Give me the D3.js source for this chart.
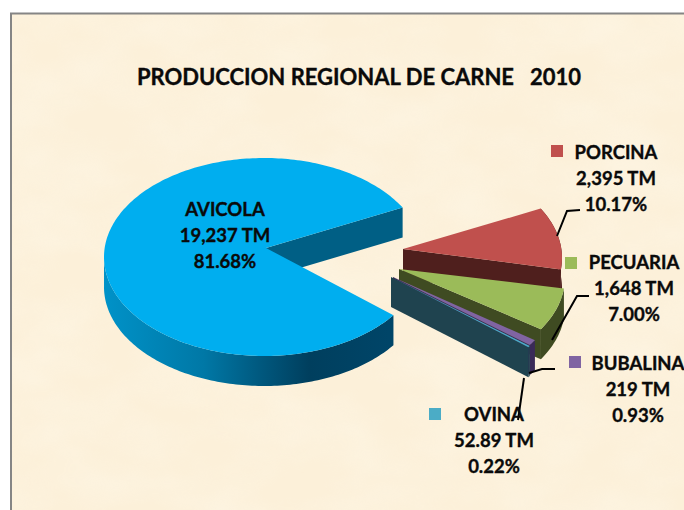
<!DOCTYPE html>
<html><head><meta charset="utf-8">
<script src="https://cdnjs.cloudflare.com/ajax/libs/d3/7.8.5/d3.min.js"></script>
<style>html,body{margin:0;padding:0;background:#fff;overflow:hidden}svg{display:block}
text{font-family:Lato,Carlito,"Open Sans",sans-serif;font-weight:700;fill:#0a0a0a;stroke:#0a0a0a;stroke-width:.35;text-anchor:middle}</style>
</head><body><svg id="c" width="684" height="510"></svg>
<script>
// ---- data ----
const categories = ["AVICOLA","PORCINA","PECUARIA","BUBALINA","OVINA"];
const tonnes     = [19237, 2395, 1648, 219, 52.89];
const tonneLabels= ["19,237 TM","2,395 TM","1,648 TM","219 TM","52.89 TM"];
const percentLabels=["81.68%","10.17%","7.00%","0.93%","0.22%"];
const title = "PRODUCCION REGIONAL DE CARNE\u00A0\u00A0\u00A02010";

// ---- styles / layout ----
const topColors  = ["#00AEEF","#C0504D","#9BBB59","#8064A2","#4BACC6"];
const faceColors = ["#005F85","#4F1F1D","#3F4B22","#3A2A58","#1F434F"];
const wallColors = ["url(#avWall)","#4F1F1D","#3F4B22","#3A2A58","#1F434F"];
const centers = [[264,257],[402,258],[405,277],[399,288],[399,289]];
const apexes  = [[266,248],[403,249],[399,269],[393,277],[391,277]];
const labelPos = [[225,216],[616,159],[634,269],[638,370],[494,421]];
const swatches = [null,[551,145],[565,257],[569,356],[429,408]];
const leaders = [null,
  [[557,236],[567,211],[580,210]],
  [[552,340],[577,296],[589,296]],
  [[529,373],[542,369],[555,369]],
  [[524,378],[518,420]]];
const RX=160, RY=99, DEPTH=30, START=126;   // start angle in degrees from 12 o'clock

const svg=d3.select("#c");
const defs=svg.append("defs");
const f=defs.append("filter").attr("id","paper").attr("x",0).attr("y",0).attr("width","100%").attr("height","100%");
f.append("feTurbulence").attr("type","fractalNoise").attr("baseFrequency","0.012 0.02").attr("numOctaves",3).attr("seed",7);
f.append("feColorMatrix").attr("type","matrix").attr("values","0 0 0 0 1  0 0 0 0 0.97  0 0 0 0 0.88  1.4 0 0 0 -0.45");
const g=defs.append("linearGradient").attr("id","avWall").attr("gradientUnits","userSpaceOnUse")
  .attr("x1",104).attr("x2",389).attr("y1",0).attr("y2",0);
[[0,"#0092C8"],[.35,"#0078A6"],[.55,"#00587E"],[.72,"#003F5E"],[1,"#004568"]]
  .forEach(s=>g.append("stop").attr("offset",s[0]).attr("stop-color",s[1]));

// background
svg.append("rect").attr("x",11).attr("y",14).attr("width",673).attr("height",496).attr("fill","#FCF0D9");
svg.append("rect").attr("x",12).attr("y",15).attr("width",672).attr("height",495).attr("filter","url(#paper)").attr("opacity",.4);
svg.append("path").attr("d","M11,510V13.5H684").attr("fill","none").attr("stroke","#858585").attr("stroke-width",2);

const arcs=d3.pie().sort(null).startAngle(START*Math.PI/180).endAngle((START+360)*Math.PI/180)(tonnes);
const pt=(i,a,dz=0)=>{const t=a-Math.PI/2;return [centers[i][0]+RX*Math.cos(t),centers[i][1]+RY*Math.sin(t)+dz];};
const line=d3.line();
const sample=(a0,a1)=>{const n=Math.max(2,Math.ceil(Math.abs(a1-a0)/0.02));return d3.range(n+1).map(k=>a0+(a1-a0)*k/n);};

arcs.forEach((d,i)=>{
  const gg=svg.append("g").attr("class","slice");
  const ap=apexes[i], as=sample(d.startAngle,d.endAngle);
  const e=pt(i,d.endAngle);
  gg.append("path").attr("fill",faceColors[i])
    .attr("d",line([ap,e,[e[0],e[1]+DEPTH],[ap[0],ap[1]+DEPTH]])+"Z");
  const vis=as.filter(a=>{const t=a-Math.PI/2;return Math.sin(t)>-0.0||i>0;});
  const upper=vis.map(a=>pt(i,a)), lower=vis.map(a=>pt(i,a,DEPTH)).reverse();
  gg.append("path").attr("fill",wallColors[i]).attr("d",line(upper.concat(lower))+"Z");
  gg.append("path").attr("fill",topColors[i]).attr("d",line([ap].concat(as.map(a=>pt(i,a))))+"Z");
});

// title
svg.append("text").attr("x",359).attr("y",85).attr("font-size",22).text(title);

// swatches, leaders, labels
categories.forEach((c,i)=>{
  if(swatches[i]) svg.append("rect").attr("x",swatches[i][0]).attr("y",swatches[i][1]).attr("width",12).attr("height",12).attr("fill",topColors[i]);
  if(leaders[i]) svg.append("path").attr("d",line(leaders[i])).attr("fill","none").attr("stroke","#000").attr("stroke-width",2);
});
categories.forEach((c,i)=>{
  const [x,y]=labelPos[i];
  [c,tonneLabels[i],percentLabels[i]].forEach((s,k)=>{
    svg.append("text").attr("x",x).attr("y",y+k*26).attr("font-size",18.5).text(s);
  });
});
</script></body></html>
